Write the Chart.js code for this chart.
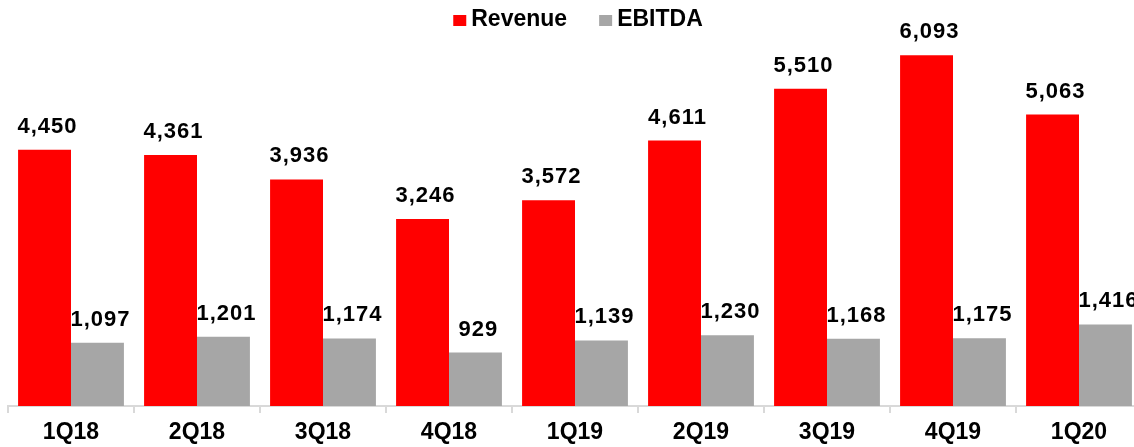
<!DOCTYPE html>
<html>
<head>
<meta charset="utf-8">
<script src="https://cdn.jsdelivr.net/npm/chart.js@4/dist/chart.umd.min.js"></script>
<style>
  html, body { margin: 0; padding: 0; background: #fff; overflow: hidden; }
  #wrap { width: 1150px; height: 447px; position: relative; }
</style>
</head>
<body>
<div id="wrap"><canvas id="chart"></canvas></div>
<script>
const quarters = ['1Q18', '2Q18', '3Q18', '4Q18', '1Q19', '2Q19', '3Q19', '4Q19', '1Q20'];
const revenue = [4450, 4361, 3936, 3246, 3572, 4611, 5510, 6093, 5063];
const ebitda = [1097, 1201, 1174, 929, 1139, 1230, 1168, 1175, 1416];

const FONT = 'Arial, "Liberation Sans", sans-serif';

// value labels above each bar
const barLabels = {
  id: 'barLabels',
  afterDatasetsDraw(chart) {
    const ctx = chart.ctx;
    ctx.save();
    ctx.font = 'bold 22px ' + FONT;
    ctx.letterSpacing = '1px';
    ctx.fillStyle = '#000';
    ctx.textAlign = 'center';
    ctx.textBaseline = 'alphabetic';
    chart.data.datasets.forEach((ds, i) => {
      chart.getDatasetMeta(i).data.forEach((bar, j) => {
        ctx.fillText(ds.data[j].toLocaleString('en-US'), bar.x + 3, bar.y - 17);
      });
    });
    ctx.restore();
  }
};

// legend drawn by hand so box/text spacing matches
const topLegend = {
  id: 'topLegend',
  afterDraw(chart) {
    const ctx = chart.ctx;
    const area = chart.chartArea;
    ctx.save();
    ctx.font = 'bold 23px ' + FONT;
    const items = chart.data.datasets.map(ds => ({ text: ds.label, color: ds.backgroundColor, w: ctx.measureText(ds.label).width }));
    const total = items.reduce((s, it) => s + 13 + 5 + it.w, 0) + 32 * (items.length - 1);
    let x = (area.left + area.right) / 2 - total / 2 + 3;
    items.forEach(it => {
      ctx.fillStyle = it.color;
      ctx.fillRect(x, 15, 13, 11);
      ctx.fillStyle = '#000';
      ctx.textBaseline = 'alphabetic';
      ctx.fillText(it.text, x + 18, 26);
      x += 13 + 5 + it.w + 32;
    });
    ctx.restore();
  }
};

new Chart(document.getElementById('chart'), {
  type: 'bar',
  data: {
    labels: quarters,
    datasets: [
      { label: 'Revenue', data: revenue, backgroundColor: '#FF0000' },
      { label: 'EBITDA', data: ebitda, backgroundColor: '#A6A6A6' }
    ]
  },
  options: {
    responsive: true,
    maintainAspectRatio: false,
    animation: false,
    datasets: { bar: { categoryPercentage: 0.84, barPercentage: 1 } },
    layout: { padding: { top: 3, left: 8, right: 8, bottom: 0 } },
    plugins: {
      legend: { display: false },
      tooltip: { enabled: false }
    },
    scales: {
      x: {
        offset: true,
        grid: { offset: true, drawOnChartArea: false, drawTicks: true, tickLength: 7, color: '#D9D9D9', lineWidth: 2 },
        border: { display: true, color: '#D9D9D9', width: 2 },
        ticks: { color: '#000', font: { family: FONT, size: 23, weight: 'bold' }, padding: 6, maxRotation: 0 },
        afterFit(scale) { scale.height = 41; }
      },
      y: { display: false, min: 0, max: 7000 }
    }
  },
  plugins: [barLabels, topLegend]
});
</script>
</body>
</html>
